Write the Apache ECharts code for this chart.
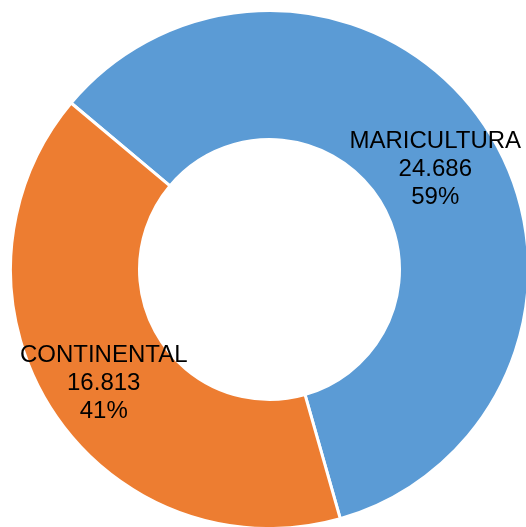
<!DOCTYPE html>
<html>
<head>
<meta charset="utf-8">
<script src="https://cdn.jsdelivr.net/npm/echarts@6/dist/echarts.min.js"></script>
<style>
html,body{margin:0;padding:0;background:#fff;}
#chart{width:526px;height:527px;}
</style>
</head>
<body>
<div id="chart"></div>
<script>
var categories = ['MARICULTURA', 'CONTINENTAL'];
var values = [24686, 16813];
var colors = ['#5B9BD5', '#ED7D31'];

function fmtThousands(v) {
  return String(v).replace(/\B(?=(\d{3})+(?!\d))/g, '.');
}

var data = categories.map(function (c, i) {
  return { name: c, value: values[i], itemStyle: { color: colors[i] } };
});

var chart = echarts.init(document.getElementById('chart'), null, { renderer: 'canvas' });
chart.setOption({
  animation: false,
  backgroundColor: '#ffffff',
  series: [{
    type: 'pie',
    center: [269.5, 269.5],
    radius: [130, 259],
    startAngle: 140,
    clockwise: true,
    avoidLabelOverlap: false,
    itemStyle: { borderColor: '#ffffff', borderWidth: 3 },
    label: {
      show: true,
      position: 'inside',
      color: '#000000',
      fontFamily: 'Liberation Sans, Arial, sans-serif',
      fontSize: 24,
      lineHeight: 28,
      align: 'center',
      formatter: function (p) {
        return p.name + '\n' + fmtThousands(p.value) + '\n' + Math.round(p.percent) + '%';
      }
    },
    labelLayout: { dy: 7 },
    labelLine: { show: false },
    emphasis: { disabled: true },
    data: data
  }]
});
</script>
</body>
</html>
